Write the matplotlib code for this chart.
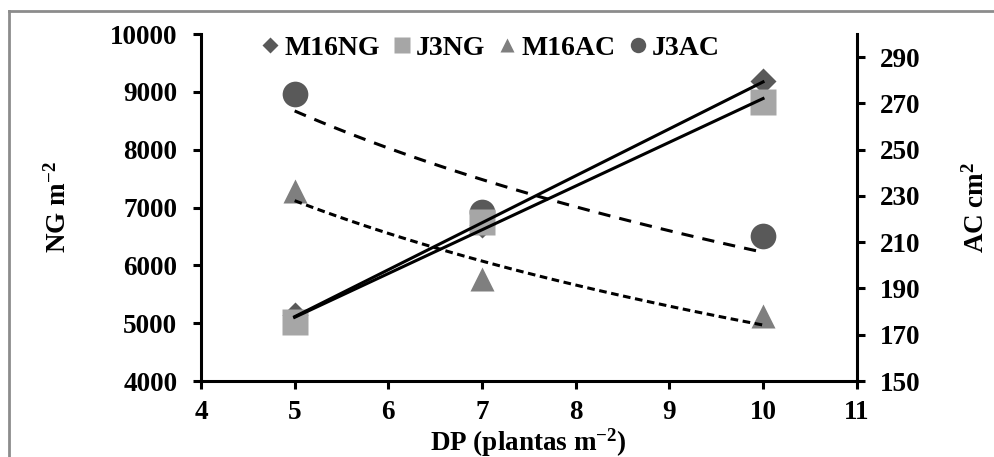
import numpy as np
import matplotlib.pyplot as plt
from matplotlib.lines import Line2D

plt.rcParams['font.family'] = ['Liberation Serif', 'DejaVu Serif']
plt.rcParams['font.weight'] = 'bold'
plt.rcParams['mathtext.fontset'] = 'custom'
plt.rcParams['mathtext.rm'] = 'Liberation Serif:bold'
plt.rcParams['mathtext.bf'] = 'Liberation Serif:bold'
plt.rcParams['mathtext.it'] = 'Liberation Serif:bold'

# plant density (DP, plantas m-2)
dp = [5, 7, 10]

# grain number (left axis)
m16ng = [5140, 6690, 9190]
j3ng = [5020, 6750, 8830]

# ear area (right axis)
m16ac = [232, 194, 178]
j3ac = [274, 223, 212.5]

fig = plt.figure(figsize=(9.95, 4.57), dpi=100)
ax = fig.add_axes([0.202, 0.1663, 0.659, 0.7593])
ax2 = ax.twinx()

# grey frame round the figure: only top and left edges show
fx, fy = 8.5 / 995, 1 - 10.5 / 457
fig.add_artist(Line2D([fx, 1.0], [fy, fy], transform=fig.transFigure,
                      color='#8c8c8c', lw=2))
fig.add_artist(Line2D([fx, fx], [0.0, fy], transform=fig.transFigure,
                      color='#8c8c8c', lw=2))

h1, = ax.plot(dp, m16ng, 'D', color='#595959', ms=13.5, mec='none', zorder=2)
h2, = ax.plot(dp, j3ng, 's', color='#a6a6a6', ms=19, mec='none', zorder=2)
h3, = ax2.plot(dp, m16ac, '^', color='#7f7f7f', ms=17, mec='none', zorder=2)
h4, = ax2.plot(dp, j3ac, 'o', color='#595959', ms=18.5, mec='none', zorder=2)

# trend lines: linear for NG, logarithmic for AC
xs = np.linspace(5, 10, 100)
for ys in (m16ng, j3ng):
    p = np.polyfit(dp, ys, 1)
    ax.plot(xs, np.polyval(p, xs), color='black', lw=2.2, zorder=3)
p = np.polyfit(np.log(dp), j3ac, 1)
ax2.plot(xs, np.polyval(p, np.log(xs)), color='black', lw=2.2,
         dashes=(4, 3), zorder=3)
p = np.polyfit(np.log(dp), m16ac, 1)
ax2.plot(xs, np.polyval(p, np.log(xs)), color='black', lw=2.2,
         dashes=(2.5, 1.5), zorder=3)

ax.set_zorder(ax2.get_zorder() + 1)
ax.patch.set_visible(False)

ax.set_xlim(4, 11)
ax.set_ylim(4000, 10000)
ax2.set_ylim(150, 300)
ax.set_xticks(range(4, 12))
ax.set_yticks(range(4000, 10001, 1000))
ax2.set_yticks(range(150, 291, 20))

for a in (ax, ax2):
    for s in a.spines.values():
        s.set_linewidth(2.2)
    a.spines['top'].set_visible(False)
    a.tick_params(width=2.2, length=6, labelsize=19.5, pad=11)
ax.tick_params(axis='x', pad=8)
ax.spines['right'].set_visible(False)
ax2.spines['left'].set_visible(False)
ax2.spines['bottom'].set_visible(False)

ax.set_ylabel(r'NG m$^{-2}$', fontsize=19.5, fontweight='bold')
ax2.set_ylabel(r'AC cm$^{2}$', fontsize=19.5, fontweight='bold')
ax.set_xlabel(r'DP (plantas m$^{-2}$)', fontsize=19.5, fontweight='bold')
ax.yaxis.set_label_coords(-0.197, 0.5)
ax2.yaxis.set_label_coords(1.163, 0.5)
ax.xaxis.set_label_coords(0.5, -0.13)

ax.legend([h1, h2, h3, h4], ['M16NG', 'J3NG', 'M16AC', 'J3AC'],
          ncol=4, frameon=False, loc='center', bbox_to_anchor=(0.442, 0.96),
          fontsize=20, markerscale=0.6, handlelength=0.6, handletextpad=0.2,
          columnspacing=0.5, borderpad=0)

fig.savefig('out.png', dpi=100)
